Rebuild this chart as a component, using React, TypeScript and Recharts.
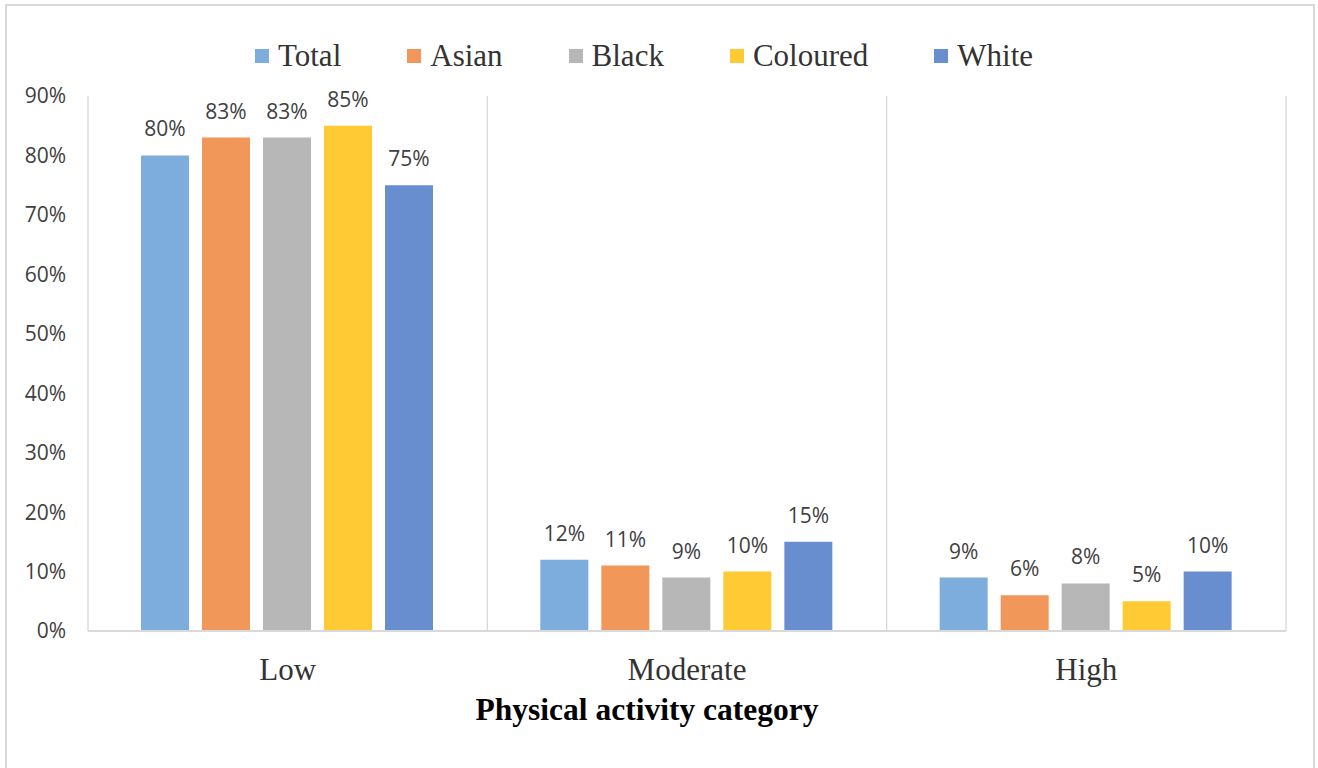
import React from "react";
import {
  BarChart,
  Bar,
  XAxis,
  YAxis,
  CartesianGrid,
  Legend,
  LabelList,
} from "recharts";

const categories = ["Low", "Moderate", "High"];
const total = [80, 12, 9];
const asian = [83, 11, 6];
const black = [83, 9, 8];
const coloured = [85, 10, 5];
const white = [75, 15, 10];
const yTicks = [0, 10, 20, 30, 40, 50, 60, 70, 80, 90];

const series = [
  { key: "Total", color: "#7caddd" },
  { key: "Asian", color: "#f1975a" },
  { key: "Black", color: "#b7b7b7" },
  { key: "Coloured", color: "#ffca33" },
  { key: "White", color: "#698ed0" },
];

const data = categories.map((c, i) => ({
  name: c,
  Total: total[i],
  Asian: asian[i],
  Black: black[i],
  Coloured: coloured[i],
  White: white[i],
}));

const serif = '"Liberation Serif", "Times New Roman", serif';
const sans = '"Open Sans", "Noto Sans", sans-serif';

function LegendBox() {
  return (
    <div
      style={{
        display: "flex",
        justifyContent: "center",
        alignItems: "center",
        height: 40,
        paddingRight: 30,
        fontFamily: serif,
        fontSize: 31,
        color: "#333",
      }}
    >
      {series.map((s) => (
        <div key={s.key} style={{ display: "flex", alignItems: "center", margin: "0 33px" }}>
          <span style={{ width: 14, height: 14, background: s.color, marginRight: 9 }} />
          <span>{s.key}</span>
        </div>
      ))}
    </div>
  );
}

// bold axis title sits under the category labels
function AxisTitle({ viewBox }: any) {
  return (
    <text
      x={647}
      y={viewBox.y + 89}
      textAnchor="middle"
      fontFamily={serif}
      fontSize={31.5}
      fontWeight="bold"
      fill="#000"
    >
      Physical activity category
    </text>
  );
}

export default function App() {
  return (
    <div style={{ position: "absolute", left: 0, top: 0, width: 1318, height: 768 }}>
      <div
        style={{
          position: "absolute",
          left: 5,
          top: 4,
          width: 1306,
          height: 790,
          border: "2px solid #d9d9d9",
        }}
      />
      <BarChart
        width={1318}
        height={768}
        data={data}
        margin={{ top: 56, right: 32, left: 0, bottom: 0 }}
        barCategoryGap={53}
        barGap={13}
        style={{ position: "absolute", left: 0, top: 0 }}
      >
        <CartesianGrid
          horizontal={false}
          stroke="#d9d9d9"
          strokeWidth={1.3}
          verticalCoordinatesGenerator={({ offset }: any) => [
            offset.left,
            offset.left + offset.width / 3,
            offset.left + (2 * offset.width) / 3,
            offset.left + offset.width,
          ]}
        />
        <Legend
          verticalAlign="top"
          content={<LegendBox />}
          wrapperStyle={{ top: 36, left: 0, width: 1318 }}
        />
        <XAxis
          dataKey="name"
          height={137}
          axisLine={{ stroke: "#d9d9d9", strokeWidth: 2 }}
          tickLine={false}
          tickSize={0}
          tickMargin={27}
          tick={{ fontFamily: serif, fontSize: 31, fill: "#333" }}
          label={<AxisTitle />}
        />
        <YAxis
          width={88}
          domain={[0, 90]}
          ticks={yTicks}
          axisLine={false}
          tickLine={false}
          tickSize={0}
          tickMargin={22}
          tickFormatter={(v) => `${v}%`}
          tick={{ fontFamily: sans, fontSize: 21, fill: "#404040" }}
        />
        {series.map((s) => (
          <Bar key={s.key} dataKey={s.key} fill={s.color} isAnimationActive={false}>
            <LabelList
              dataKey={s.key}
              position="top"
              offset={19}
              formatter={(v: any) => `${v}%`}
              style={{ fontFamily: sans, fontSize: 21, fill: "#404040" }}
            />
          </Bar>
        ))}
      </BarChart>
    </div>
  );
}
